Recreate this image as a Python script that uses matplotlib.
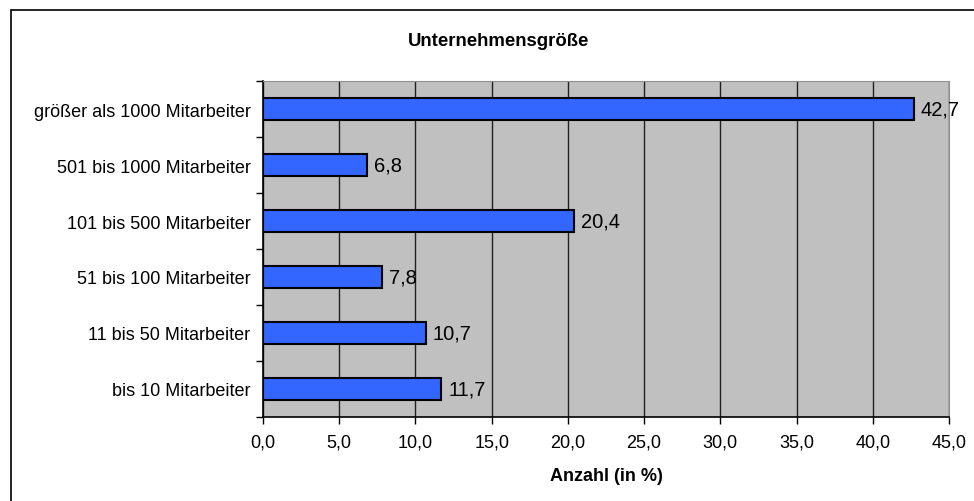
import matplotlib.pyplot as plt
from matplotlib.patches import Rectangle
from matplotlib.ticker import FuncFormatter, FixedLocator

plt.rcParams['font.family'] = ['Liberation Sans', 'DejaVu Sans']

categories = ["bis 10 Mitarbeiter", "11 bis 50 Mitarbeiter", "51 bis 100 Mitarbeiter",
              "101 bis 500 Mitarbeiter", "501 bis 1000 Mitarbeiter", "größer als 1000 Mitarbeiter"]
values = [11.7, 10.7, 7.8, 20.4, 6.8, 42.7]
xticks = [0, 5, 10, 15, 20, 25, 30, 35, 40, 45]

W, H = 974, 502
fig = plt.figure(figsize=(W / 100, H / 100), dpi=100)
ax = fig.add_axes([263 / W, 1 - 418 / H, (949 - 263) / W, (418 - 82) / H])

ax.set_facecolor('#C0C0C0')
ypos = list(range(len(categories)))
ax.barh(ypos, values, height=0.40, color='#3366FF', edgecolor='black', linewidth=1.5, zorder=3)
for y, v in zip(ypos, values):
    ax.text(v + 0.45, y, f"{v:.1f}".replace('.', ','), va='center', ha='left', fontsize=14.5, zorder=4)

ax.set_xlim(0, 45)
ax.set_ylim(-0.5, len(categories) - 0.5)
ax.set_xticks(xticks)
ax.xaxis.set_major_formatter(FuncFormatter(lambda x, p: f"{x:.1f}".replace('.', ',')))
ax.grid(axis='x', color='#202020', linewidth=1, zorder=1)

# category labels without ticks, tick marks between categories
ax.yaxis.set_major_locator(FixedLocator([i + 0.5 for i in range(-1, len(categories))]))
ax.yaxis.set_major_formatter(FuncFormatter(lambda x, p: ''))
ax.yaxis.set_minor_locator(FixedLocator(ypos))
ax.set_yticklabels(categories, minor=True)
ax.tick_params(axis='y', which='minor', length=0, pad=9, labelsize=13)
ax.tick_params(axis='y', which='major', length=5, width=1)
ax.tick_params(axis='x', length=5, width=1, pad=7, labelsize=13)

for s in ['top', 'right']:
    ax.spines[s].set_color('#909090')
for s in ['left', 'bottom']:
    ax.spines[s].set_linewidth(1.2)

ax.set_xlabel("Anzahl (in %)", fontweight='bold', fontsize=13, labelpad=12)
fig.text(499 / W, 1 - 41 / H, "Unternehmensgröße", ha='center', va='center', fontweight='bold', fontsize=13.4)

fig.patches.append(Rectangle((11 / W, -0.1), 1.2, 1 - 11 / H + 0.1, transform=fig.transFigure,
                             fill=False, edgecolor='black', linewidth=1.2))

fig.savefig('out.png', dpi=100)
